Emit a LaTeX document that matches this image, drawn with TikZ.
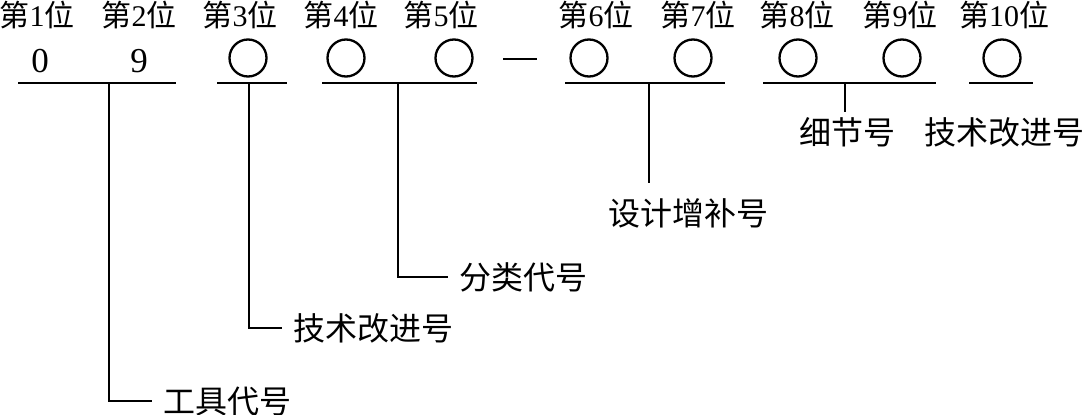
\documentclass[tikz,border=0pt]{standalone}
\usepackage{fontspec}
\setmainfont{Liberation Serif}
\newfontfamily\cjk{Noto Sans CJK SC}
\begin{document}
\begin{tikzpicture}[x=1pt,y=-1pt,
  top/.style={anchor=base, inner sep=0pt, font=\fontsize{30}{30}\selectfont},
  dig/.style={anchor=base, inner sep=0pt, font=\fontsize{35}{35}\selectfont},
  circ/.style={circle, draw, minimum size=37pt, inner sep=0pt, line width=2.3pt},
  lbl/.style={anchor=base west, inner ysep=0pt, inner xsep=11pt, font=\cjk\fontsize{32}{32}\selectfont},
  ln/.style={line width=2.5pt}]
\useasboundingbox (0,0) rectangle (1082,415);
% top labels
\node[top] (p1) at (37,27) {{\cjk 第}1{\cjk 位}};
\node[top] (p2) at (139,27) {{\cjk 第}2{\cjk 位}};
\node[top] (p3) at (240,27) {{\cjk 第}3{\cjk 位}};
\node[top] (p4) at (341,27) {{\cjk 第}4{\cjk 位}};
\node[top] (p5) at (441,27) {{\cjk 第}5{\cjk 位}};
\node[top] (p6) at (596,27) {{\cjk 第}6{\cjk 位}};
\node[top] (p7) at (698,27) {{\cjk 第}7{\cjk 位}};
\node[top] (p8) at (797,27) {{\cjk 第}8{\cjk 位}};
\node[top] (p9) at (900,27) {{\cjk 第}9{\cjk 位}};
\node[top] (p10) at (1004,27) {{\cjk 第}10{\cjk 位}};
% digits and circles
\node[dig] (d1) at (40,72) {0};
\node[dig] (d2) at (139,72) {9};
\node[circ] (c3) at (248,58) {};
\node[circ] (c4) at (346,58) {};
\node[circ] (c5) at (454,58) {};
\draw[line width=2pt] (503,59) -- (537,59);
\node[circ] (c6) at (589,58) {};
\node[circ] (c7) at (693,58) {};
\node[circ] (c8) at (798,58) {};
\node[circ] (c9) at (902,58) {};
\node[circ] (c10) at (1002,58) {};
% underlines
\coordinate (u1a) at (18,83);  \coordinate (u1b) at (176,83);  \coordinate (u1m) at (109,83);
\coordinate (u2a) at (217,83); \coordinate (u2b) at (287,83);  \coordinate (u2m) at (249,83);
\coordinate (u3a) at (322,83); \coordinate (u3b) at (477,83);  \coordinate (u3m) at (398,83);
\coordinate (u4a) at (565,83); \coordinate (u4b) at (725,83);  \coordinate (u4m) at (649,83);
\coordinate (u5a) at (763,83); \coordinate (u5b) at (936,83);  \coordinate (u5m) at (845,83);
\coordinate (u6a) at (969,83); \coordinate (u6b) at (1033,83);
\draw[ln] (u1a) -- (u1b);
\draw[ln] (u2a) -- (u2b);
\draw[ln] (u3a) -- (u3b);
\draw[ln] (u4a) -- (u4b);
\draw[ln] (u5a) -- (u5b);
\draw[ln] (u6a) -- (u6b);
% labels
\node[lbl] (gj) at (152,413) {工具代号};
\node[lbl] (js1) at (282,340) {技术改进号};
\node[lbl] (fl) at (448,289) {分类代号};
\node[lbl, anchor=base, inner xsep=0pt] (sj) at (688,225) {设计增补号};
\node[lbl, anchor=base, inner xsep=0pt] (xj) at (847,144) {细节号};
\node[lbl, anchor=base, inner xsep=0pt] (js2) at (1004,144) {技术改进号};
% connectors
\draw[ln] (u1m) |- (gj.west);
\draw[ln] (u2m) |- (js1.west);
\draw[ln] (u3m) |- (fl.west);
\draw[ln, shorten >=14.6pt] (u4m) -- (u4m |- sj.north);
\draw[ln, shorten >=4.6pt] (u5m) -- (u5m |- xj.north);
\end{tikzpicture}
\end{document}
